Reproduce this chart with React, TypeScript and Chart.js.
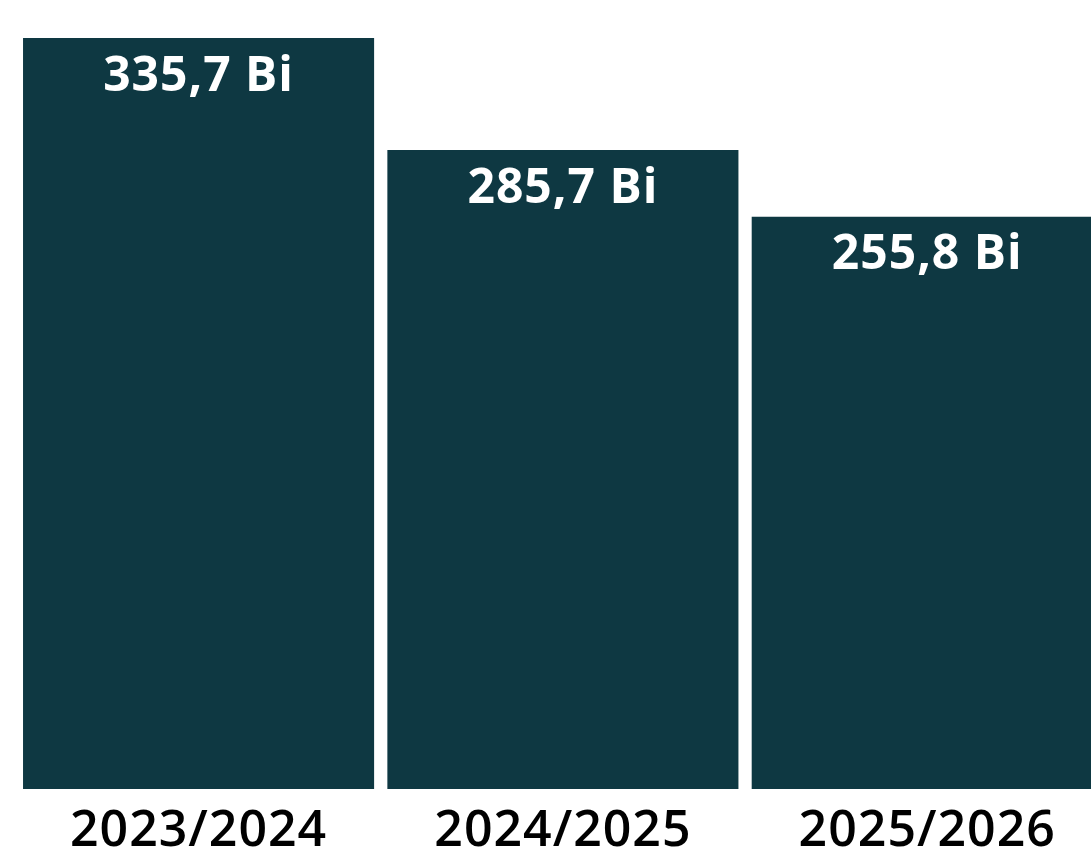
import React, { useEffect, useRef } from "react";
import { Chart, registerables } from "chart.js";

Chart.register(...registerables);

const categories = ["2023/2024", "2024/2025", "2025/2026"];
const values = [335.7, 285.7, 255.8];
const valueLabels = ["335,7 Bi", "285,7 Bi", "255,8 Bi"];

const BAR_COLOR = "#0E3842";

const spacingPlugin = {
  id: "spacing",
  beforeDraw(chart: any) {
    (chart.ctx as any).letterSpacing = "1px";
  },
};

const valueLabelPlugin = {
  id: "valueLabels",
  afterDatasetsDraw(chart: any) {
    const ctx = chart.ctx;
    const meta = chart.getDatasetMeta(0);
    ctx.save();
    (ctx as any).letterSpacing = "1px";
    ctx.fillStyle = "#ffffff";
    ctx.font = "bold 48px 'Open Sans'";
    ctx.textAlign = "center";
    ctx.textBaseline = "middle";
    meta.data.forEach((bar: any, i: number) => {
      ctx.fillText(valueLabels[i], bar.x, bar.y + 39);
    });
    ctx.restore();
  },
};

export default function App() {
  const ref = useRef<HTMLCanvasElement>(null);
  useEffect(() => {
    document.body.style.margin = "0";
    document.body.style.overflow = "hidden";
    const chart = new Chart(ref.current!, {
      type: "bar",
      data: {
        labels: categories,
        datasets: [
          {
            data: values,
            backgroundColor: BAR_COLOR,
            barPercentage: 0.9636,
            categoryPercentage: 1,
          },
        ],
      },
      options: {
        animation: false,
        responsive: false,
        devicePixelRatio: 1,
        layout: { padding: { left: 16.4, right: 0.6, top: 0, bottom: 0 } },
        plugins: { legend: { display: false }, tooltip: { enabled: false } },
        scales: {
          x: {
            border: { display: false },
            grid: { display: false, drawTicks: false },
            ticks: {
              color: "#000000",
              font: { family: "'Open Sans'", size: 50, weight: 600 },
              padding: 13,
              maxRotation: 0,
              autoSkip: false,
            },
            afterFit(scale: any) {
              scale.height = 66;
            },
          },
          y: {
            display: false,
            min: 0,
            max: 352.7,
          },
        },
      },
      plugins: [spacingPlugin, valueLabelPlugin],
    });
    return () => chart.destroy();
  }, []);
  return (
    <div style={{ width: 1091, height: 855, overflow: "hidden", position: "relative" }}>
      <canvas ref={ref} width={1110} height={855} style={{ display: "block" }} />
    </div>
  );
}
